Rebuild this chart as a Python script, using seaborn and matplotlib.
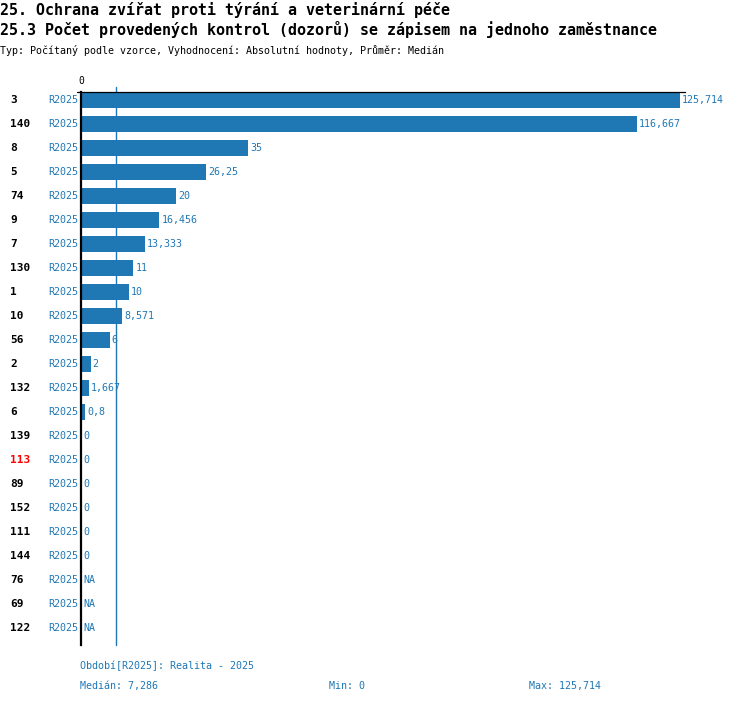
import numpy as np
import pandas as pd
import matplotlib
matplotlib.use('Agg')
import matplotlib.pyplot as plt
import matplotlib.transforms as mtransforms
import seaborn as sns

# Data
kody = ['3', '140', '8', '5', '74', '9', '7', '130', '1', '10', '56', '2',
        '132', '6', '139', '113', '89', '152', '111', '144', '76', '69', '122']
hodnoty = [125.714, 116.667, 35, 26.25, 20, 16.456, 13.333, 11, 10, 8.571, 6, 2,
           1.667, 0.8, 0, 0, 0, 0, 0, 0, np.nan, np.nan, np.nan]
zvyraznene = ['113']
obdobi = 'R2025'
median = 7.286
minimum = 0
maximum = 125.714

titulek1 = '25. Ochrana zvířat proti týrání a veterinární péče'
titulek2 = '25.3 Počet provedených kontrol (dozorů) se zápisem na jednoho zaměstnance'
podtitulek = 'Typ: Počítaný podle vzorce, Vyhodnocení: Absolutní hodnoty, Průměr: Medián'
popis_obdobi = 'Období[R2025]: Realita - 2025'

MODRA = '#1f77b4'
W, H = 750, 704


def cz(v):
    return f'{v:g}'.replace('.', ',')


sns.set_style('white')
plt.rcParams['font.family'] = ['DejaVu Sans Mono', 'DejaVu Sans']

df = pd.DataFrame({'kod': kody, 'hodnota': hodnoty})
df['kreslit'] = df['hodnota'].fillna(0)

fig = plt.figure(figsize=(W / 100, H / 100), dpi=100)
# axes: left 81px, right 685px, top 92px, bottom 645px
ax = fig.add_axes([81 / W, (H - 645) / H, (685 - 81) / W, (645 - 92) / H])

sns.barplot(data=df, x='kreslit', y='kod', orient='h', color=MODRA,
            saturation=1, width=0.65, ax=ax, order=kody, linewidth=0)

n = len(kody)
ax.set_ylim(n - 1 + 17 / 24, -8 / 24)
ax.set_xlim(0, maximum * 604 / 599)

for s in ['right', 'bottom']:
    ax.spines[s].set_visible(False)
ax.spines['left'].set_color('black')
ax.spines['left'].set_linewidth(1.6)
ax.spines['top'].set_color('black')
ax.spines['top'].set_linewidth(0.9)

ax.xaxis.tick_top()
ax.set_xticks([0])
ax.set_xticklabels(['0'])
ax.tick_params(axis='x', length=0, pad=4, labelsize=7, colors='black')
ax.set_yticks([])
ax.set_xlabel('')
ax.set_ylabel('')

# short stub of the top line left of the axis
ax.plot([-0.03 * maximum * 604 / 599 / 604 * 4 / 0.03, 0], [-8 / 24, -8 / 24],
        color='black', lw=0.9, clip_on=False)

# median line
ax.axvline(median, ymin=0, ymax=1 + 5 / 553, color=MODRA, lw=1, clip_on=False)

# labels per row
tr = mtransforms.blended_transform_factory(fig.transFigure, ax.transData)
for i, (k, v) in enumerate(zip(kody, hodnoty)):
    barva = 'red' if k in zvyraznene else 'black'
    ax.text(10 / W, i, k, transform=tr, ha='left', va='center',
            fontsize=8, fontweight='bold', color=barva)
    ax.text(78 / W, i, obdobi, transform=tr, ha='right', va='center',
            fontsize=7.2, color=MODRA)
    if np.isnan(v):
        txt, xv = 'NA', 0
    else:
        txt, xv = cz(v), v
    ax.annotate(txt, (xv, i), xytext=(1.5, 0), textcoords='offset points',
                ha='left', va='center', fontsize=7.2, color=MODRA)

# titles
fig.text(0, 1 - 10 / H, titulek1, ha='left', va='center', fontsize=10.8,
         fontweight='bold', color='black')
fig.text(0, 1 - 30 / H, titulek2, ha='left', va='center', fontsize=10.8,
         fontweight='bold', color='black')
fig.text(0, 1 - 50 / H, podtitulek, ha='left', va='center', fontsize=7.2,
         color='black')

# footer
fig.text(80 / W, 1 - 666 / H, popis_obdobi, ha='left', va='center',
         fontsize=7.2, color=MODRA)
fig.text(80 / W, 1 - 686 / H, f'Medián: {cz(median)}', ha='left', va='center',
         fontsize=7.2, color=MODRA)
fig.text(329 / W, 1 - 686 / H, f'Min: {cz(minimum)}', ha='left', va='center',
         fontsize=7.2, color=MODRA)
fig.text(529 / W, 1 - 686 / H, f'Max: {cz(maximum)}', ha='left', va='center',
         fontsize=7.2, color=MODRA)

fig.savefig('out.png', dpi=100)
